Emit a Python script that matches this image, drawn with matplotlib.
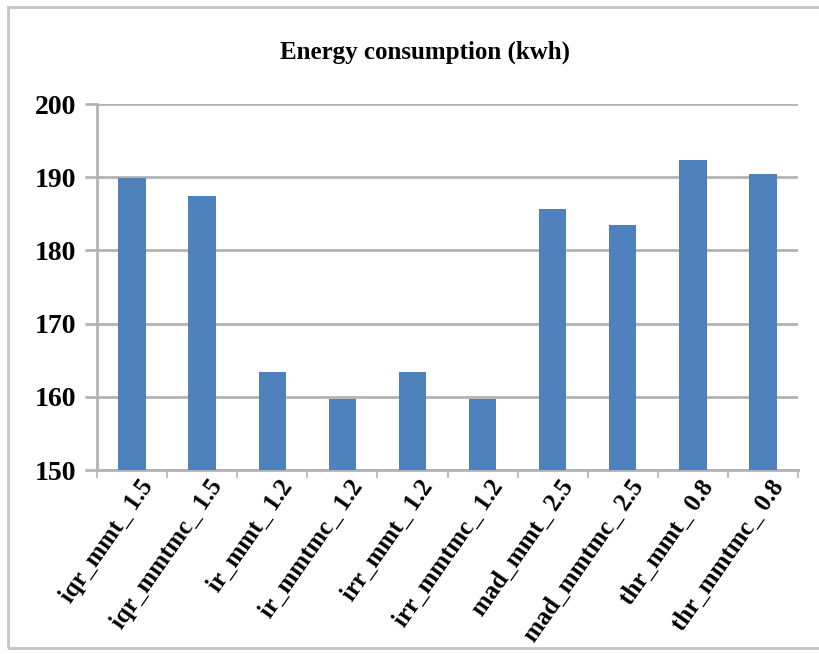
import numpy as np
import matplotlib.pyplot as plt
from matplotlib.patches import Rectangle
import matplotlib.transforms as mtransforms

labels = [
    "iqr_mmt_ 1.5", "iqr_mmtmc_ 1.5", "ir_mmt_ 1.2", "ir_mmtmc_ 1.2",
    "irr_mmt_ 1.2", "irr_mmtmc_ 1.2", "mad_mmt_ 2.5", "mad_mmtmc_ 2.5",
    "thr_mmt_ 0.8", "thr_mmtmc_ 0.8",
]
energy_kwh = [189.9, 187.4, 163.4, 159.7, 163.4, 159.7, 185.6, 183.5, 192.4, 190.5]
y_ticks = [150, 160, 170, 180, 190, 200]

bar_color = "#4F81BD"
grid_color = "#B3B3B3"
serif = "Liberation Serif"

fig = plt.figure(figsize=(8.2, 6.54), dpi=100)

# light frame around the chart (runs off the right edge)
fig.patches.append(Rectangle((8 / 820, 6 / 654), 830 / 820, 641 / 654,
                             transform=fig.transFigure, fill=False,
                             edgecolor="#C8C8C8", linewidth=2.2))

ax = fig.add_axes([97 / 820, 184 / 654, 701 / 820, 366 / 654])
x = np.arange(len(labels))
ax.bar(x, energy_kwh, width=0.39, color=bar_color, zorder=3)

ax.set_xlim(-0.5, len(labels) - 0.5)
ax.set_ylim(150, 200)
ax.set_yticks(y_ticks)
ax.set_yticklabels([str(t) for t in y_ticks], fontfamily=serif,
                   fontweight="bold", fontsize=20)
ax.yaxis.grid(True, color=grid_color, linewidth=2.0, zorder=0)

# category labels sit at centres, tick marks at the boundaries
ax.set_xticks(x)
ax.set_xticklabels(labels, rotation=55, ha="right", va="center",
                   rotation_mode="anchor", fontfamily=serif,
                   fontweight="bold", fontsize=18)
ax.tick_params(axis="x", length=0, pad=9)
shift = mtransforms.ScaledTranslation(16 / 100, 0, fig.dpi_scale_trans)
for lbl in ax.get_xticklabels():
    lbl.set_transform(lbl.get_transform() + shift)
ax.set_xticks(np.arange(len(labels) + 1) - 0.5, minor=True)
ax.tick_params(axis="x", which="minor", length=6, width=1.2, color=grid_color,
               direction="out")
ax.tick_params(axis="y", length=9, width=2.0, color=grid_color, pad=6)

for side in ["top", "right"]:
    ax.spines[side].set_visible(False)
for side in ["left", "bottom"]:
    ax.spines[side].set_color(grid_color)
    ax.spines[side].set_linewidth(2.0)

fig.text(425 / 820, 1 - 52 / 654, "Energy consumption (kwh)", ha="center",
         va="center", fontfamily=serif, fontweight="bold", fontsize=18)

fig.savefig("out.png", dpi=100)
